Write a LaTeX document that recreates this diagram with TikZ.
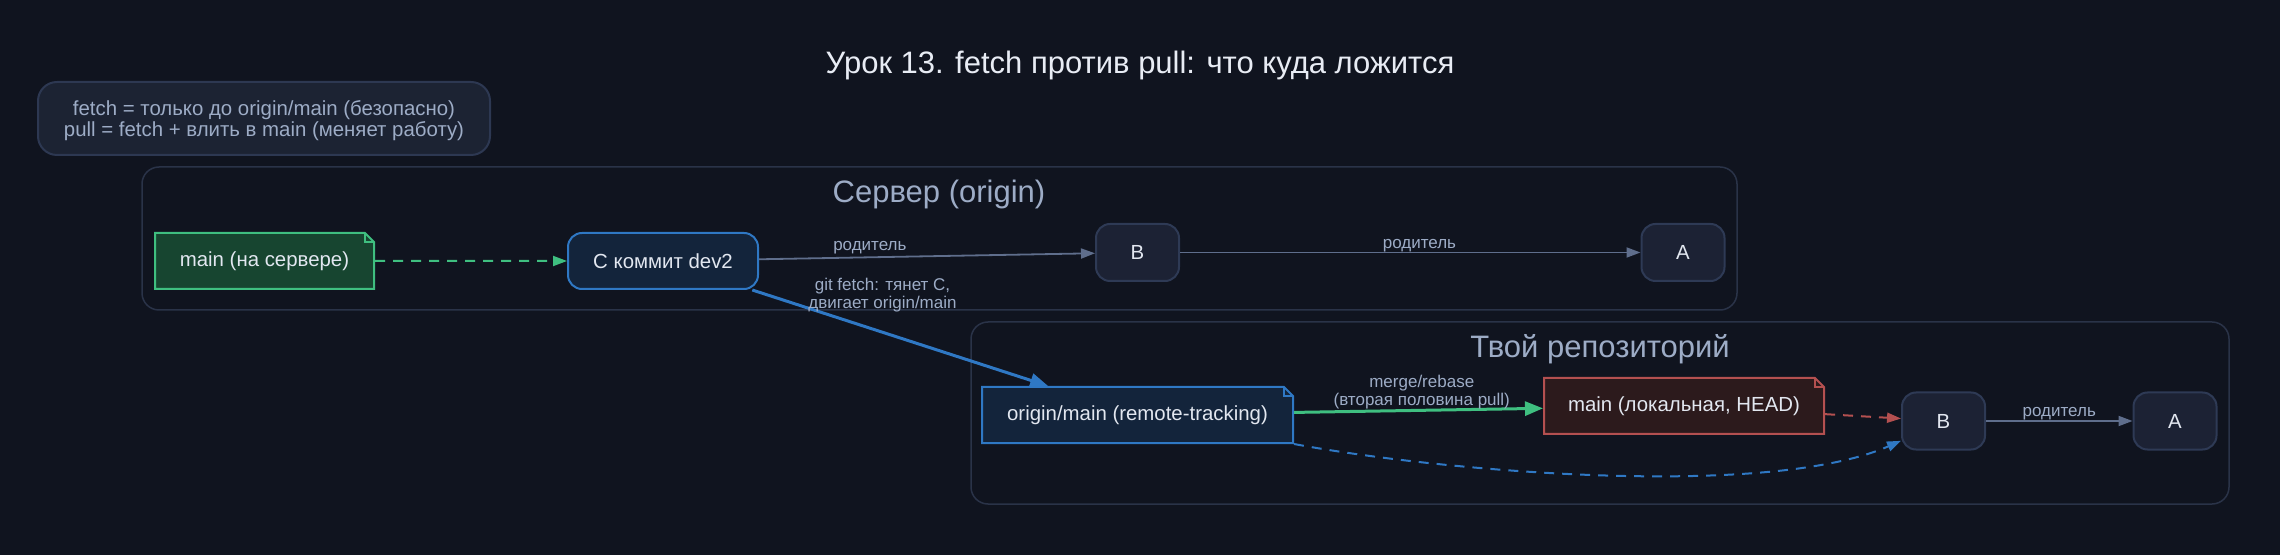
\documentclass[tikz,border=0pt]{standalone}
\usepackage{fontspec}
\setmainfont{Liberation Sans}
\usetikzlibrary{shapes.misc,arrows.meta,positioning}

\definecolor{bgc}{HTML}{10141F}
\definecolor{titlec}{HTML}{E8ECF4}
\definecolor{textc}{HTML}{E2E7F0}
\definecolor{mutedc}{HTML}{9DACC6}
\definecolor{clusterc}{HTML}{2A3348}
\definecolor{legendfill}{HTML}{1C2333}
\definecolor{legendline}{HTML}{2D3852}
\definecolor{commitfill}{HTML}{1C2234}
\definecolor{commitline}{HTML}{2E3A55}
\definecolor{parentc}{HTML}{5F6E8C}
\definecolor{greenc}{HTML}{3FBF80}
\definecolor{greenfill}{HTML}{174530}
\definecolor{bluec}{HTML}{2F78C4}
\definecolor{bluefill}{HTML}{13243B}
\definecolor{redc}{HTML}{B45050}
\definecolor{redfill}{HTML}{2C1A1C}

\begin{document}
\begin{tikzpicture}[x=0.5pt, y=-0.5pt, >={Triangle[length=7pt,width=5pt]},
    every node/.style={font=\fontsize{10.2}{12}\selectfont, text=textc},
    cluster/.style={draw=clusterc, line width=0.75pt, rounded corners=8.5pt, inner sep=0pt},
    clusterlbl/.style={font=\fontsize{15.5}{18}\selectfont, text=mutedc},
    legend/.style={draw=legendline, fill=legendfill, line width=1pt, rounded corners=9.5pt,
        minimum width=226pt, minimum height=36.5pt, align=center, text=mutedc,
        font=\fontsize{10.2}{9.5}\selectfont, text height=21pt, text depth=2.5pt},
    commit/.style={draw=commitline, fill=commitfill, line width=1pt, rounded corners=7pt,
        minimum width=41.5pt, minimum height=28.5pt},
    refnote/.style={chamfered rectangle, chamfered rectangle corners=north east,
        chamfered rectangle sep=2.25pt, draw=#1, line width=1pt, minimum height=28pt,
        path picture={\draw[#1, line width=1pt]
            ([xshift=-4.5pt]path picture bounding box.north east) |-
            ([yshift=-4.5pt]path picture bounding box.north east);}},
    lbl/.style={font=\fontsize{8.5}{9}\selectfont, text=mutedc, inner sep=1pt, align=center},
    parent/.style={->, draw=parentc, line width=0.9pt},
    linkdash/.style={->, line width=1pt, dash pattern=on 5pt off 4pt},
    strong/.style={-{Triangle[length=9pt,width=7pt]}, line width=1.5pt}]

  % backdrop and frames
  \fill[bgc] (0,0) rectangle (2280,555);
  \node[cluster, minimum width=797.5pt, minimum height=71.5pt] (server) at (939.5,238.5) {};
  \node[cluster, minimum width=629pt, minimum height=91pt] (repo) at (1600,413) {};
  \node[clusterlbl] (serverlbl) at (939,194) {Сервер (origin)};
  \node[clusterlbl] (repolbl) at (1600,349) {Твой репозиторий};

  \node[font=\fontsize{15.5}{18}\selectfont, text=titlec] (title) at (1140,65)
    {Урок 13. fetch против pull: что куда ложится};
  \node[legend] (legend) at (264,118.5)
    {fetch = только до origin/main (безопасно)\\pull = fetch + влить в main (меняет работу)};

  % server side
  \node[refnote=greenc, fill=greenfill, minimum width=109.5pt] (srvmain) at (264.5,261) {main (на сервере)};
  \node[commit, draw=bluec, fill=bluefill, minimum width=95pt, minimum height=28pt] (commitC) at (663,261) {C коммит dev2};
  \node[commit] (srvB) at (1137.5,252.5) {B};
  \node[commit] (srvA) at (1683,252.5) {A};

  % local side
  \node[refnote=bluec, fill=bluefill, minimum width=155.5pt] (originmain) at (1137.5,415) {origin/main (remote-tracking)};
  \node[refnote=redc, fill=redfill, minimum width=140pt] (localmain) at (1684,406) {main (локальная, HEAD)};
  \node[commit] (localB) at (1943.5,421) {B};
  \node[commit] (localA) at (2175,421) {A};

  % edges
  \draw[linkdash, greenc] (srvmain) -- (commitC);
  \draw[parent] (commitC) -- node[lbl, above, pos=0.33] {родитель} (srvB);
  \draw[parent] (srvB) -- node[lbl, above=-1pt, pos=0.52] {родитель} (srvA);
  \draw[strong, bluec] (commitC) -- node[lbl, pos=0.44, yshift=18.5pt] {git fetch: тянет C,\\двигает origin/main} (originmain);
  \draw[strong, greenc] (originmain) -- node[lbl, pos=0.513, yshift=9pt] {merge/rebase\\(вторая половина pull)} (localmain);
  \draw[linkdash, redc] (localmain) -- (localB);
  \draw[linkdash, bluec] (originmain.south east) .. controls +(143.6,26.9) and +(-135,59) .. (localB.205);
  \draw[parent] (localB) -- node[lbl, above=-1pt] {родитель} (localA);
\end{tikzpicture}
\end{document}
